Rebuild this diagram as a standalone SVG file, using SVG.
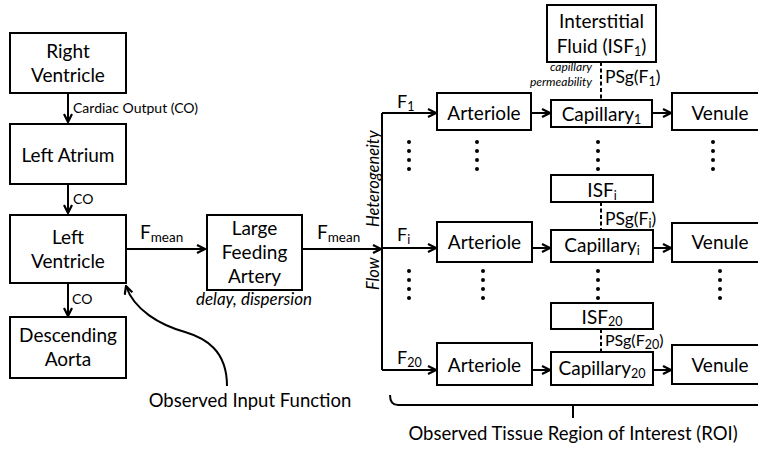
<svg xmlns="http://www.w3.org/2000/svg" width="758" height="449" viewBox="0 0 758 449">
<defs>
<style>
rect.box{fill:#fff;stroke:#000;stroke-width:2}
text{font-family:Lato,"Liberation Sans",sans-serif;fill:#000}
.n{font-size:19px;text-anchor:middle}
.s{font-size:14px}
.p{font-size:17.5px}
.i{font-style:italic}
.ln{fill:none;stroke:#000;stroke-width:2}
.dash{fill:none;stroke:#000;stroke-width:2;stroke-dasharray:4,2.5}
.sub{font-size:12.5px}
</style>
<marker id="ah" viewBox="0 0 10 10" refX="9" refY="5" markerWidth="10" markerHeight="10" markerUnits="userSpaceOnUse" orient="auto">
<path d="M1,1 L9,5 L1,9" fill="none" stroke="#000" stroke-width="2.2"/>
</marker>
</defs>
<rect width="758" height="449" fill="#fff"/>

<g id="connectors">
<path class="ln" d="M68,93 V122" marker-end="url(#ah)"/>
<path class="ln" d="M68,184 V213" marker-end="url(#ah)"/>
<path class="ln" d="M68,283 V316" marker-end="url(#ah)"/>
<path class="ln" d="M126,249 H205" marker-end="url(#ah)"/>
<path class="ln" d="M302,249 H381" marker-end="url(#ah)"/>
<path class="ln" d="M382,113 V370"/>
<path class="ln" d="M382,113 H436" marker-end="url(#ah)"/>
<path class="ln" d="M382,248 H436" marker-end="url(#ah)"/>
<path class="ln" d="M382,370 H436" marker-end="url(#ah)"/>
<path class="ln" d="M531,113 H550" marker-end="url(#ah)"/>
<path class="ln" d="M652,113 H671" marker-end="url(#ah)"/>
<path class="ln" d="M532,248 H550" marker-end="url(#ah)"/>
<path class="ln" d="M653,248 H671" marker-end="url(#ah)"/>
<path class="ln" d="M532,370 H550" marker-end="url(#ah)"/>
<path class="ln" d="M653,370 H671" marker-end="url(#ah)"/>
<path class="dash" d="M601,62 V100"/>
<path class="dash" d="M601,202 V230"/>
<path class="dash" d="M601,329 V352"/>
<path class="ln" d="M227,386 C227,350 205,338 185,332 C160,325 134,310 126,286" marker-end="url(#ah)" stroke-width="2.4"/>
<path class="ln" d="M390,395 Q390,405 398,405 H758 M573,405 V418" stroke-width="2.4"/>
</g>

<g id="dots" fill="#000">
<circle cx="409" cy="142" r="2"/><circle cx="409" cy="151" r="2"/><circle cx="409" cy="160" r="2"/><circle cx="409" cy="169" r="2"/>
<circle cx="477" cy="142" r="2"/><circle cx="477" cy="151" r="2"/><circle cx="477" cy="160" r="2"/><circle cx="477" cy="169" r="2"/>
<circle cx="598" cy="142" r="2"/><circle cx="598" cy="151" r="2"/><circle cx="598" cy="160" r="2"/><circle cx="598" cy="169" r="2"/>
<circle cx="713" cy="142" r="2"/><circle cx="713" cy="151" r="2"/><circle cx="713" cy="160" r="2"/><circle cx="713" cy="169" r="2"/>
<circle cx="409" cy="271" r="2"/><circle cx="409" cy="280" r="2"/><circle cx="409" cy="289" r="2"/><circle cx="409" cy="298" r="2"/>
<circle cx="483" cy="271" r="2"/><circle cx="483" cy="280" r="2"/><circle cx="483" cy="289" r="2"/><circle cx="483" cy="298" r="2"/>
<circle cx="598" cy="271" r="2"/><circle cx="598" cy="280" r="2"/><circle cx="598" cy="289" r="2"/><circle cx="598" cy="298" r="2"/>
<circle cx="720" cy="271" r="2"/><circle cx="720" cy="280" r="2"/><circle cx="720" cy="289" r="2"/><circle cx="720" cy="298" r="2"/>
</g>

<g id="right-ventricle"><rect class="box" x="10" y="33" width="116" height="60"/><text class="n" x="68" y="58">Right</text><text class="n" x="68" y="82">Ventricle</text></g>
<g id="left-atrium"><rect class="box" x="10" y="124" width="116" height="60"/><text class="n" x="68" y="162">Left Atrium</text></g>
<g id="left-ventricle"><rect class="box" x="10" y="215" width="116" height="68"/><text class="n" x="68" y="244">Left</text><text class="n" x="68" y="268">Ventricle</text></g>
<g id="descending-aorta"><rect class="box" x="10" y="317" width="116" height="61"/><text class="n" x="68" y="342">Descending</text><text class="n" x="68" y="366">Aorta</text></g>
<g id="large-feeding-artery"><rect class="box" x="207" y="215" width="95" height="75"/><text class="n" x="254.5" y="235">Large</text><text class="n" x="254.5" y="259">Feeding</text><text class="n" x="254.5" y="283">Artery</text></g>

<g id="isf-1"><rect class="box" x="547" y="5" width="109" height="57"/><text class="n" x="601.5" y="28">Interstitial</text><text class="n" x="601.5" y="53">Fluid (ISF<tspan class="sub" dy="3">1</tspan><tspan dy="-3">)</tspan></text></g>
<g id="arteriole-1"><rect class="box" x="437" y="93" width="94" height="37"/><text class="n" x="484" y="120">Arteriole</text></g>
<g id="capillary-1"><rect class="box" x="551" y="100" width="101" height="27"/><text class="n" x="601.5" y="121">Capillary<tspan class="sub" dy="3">1</tspan></text></g>
<g id="venule-1"><rect class="box" x="672" y="93" width="96" height="37"/><text class="n" x="720" y="120">Venule</text></g>

<g id="isf-i"><rect class="box" x="551" y="175" width="102" height="27"/><text class="n" x="602" y="197">ISF<tspan class="sub" dy="3">i</tspan></text></g>
<g id="arteriole-i"><rect class="box" x="437" y="222" width="95" height="40"/><text class="n" x="484.5" y="249">Arteriole</text></g>
<g id="capillary-i"><rect class="box" x="551" y="230" width="102" height="32"/><text class="n" x="602" y="252">Capillary<tspan class="sub" dy="3">i</tspan></text></g>
<g id="venule-i"><rect class="box" x="672" y="223" width="96" height="39"/><text class="n" x="720" y="249">Venule</text></g>

<g id="isf-20"><rect class="box" x="551" y="303" width="102" height="26"/><text class="n" x="602" y="324">ISF<tspan class="sub" dy="2">20</tspan></text></g>
<g id="arteriole-20"><rect class="box" x="437" y="343" width="95" height="42"/><text class="n" x="484.5" y="372">Arteriole</text></g>
<g id="capillary-20"><rect class="box" x="551" y="352" width="102" height="33"/><text class="n" x="602" y="375">Capillary<tspan class="sub" dy="3">20</tspan></text></g>
<g id="venule-20"><rect class="box" x="672" y="345" width="96" height="39"/><text class="n" x="720" y="372">Venule</text></g>

<g id="labels">
<text class="s" x="73" y="113">Cardiac Output (CO)</text>
<text class="s" x="73" y="204">CO</text>
<text class="s" x="72" y="304">CO</text>
<text x="140" y="239" font-size="19">F<tspan font-size="13.5" dy="3">mean</tspan></text>
<text x="317" y="239" font-size="19">F<tspan font-size="13.5" dy="3">mean</tspan></text>
<text class="i" x="254" y="305" font-size="17" text-anchor="middle">delay, dispersion</text>
<text class="i" transform="translate(379,290) rotate(-90)" font-size="16.5">Flow<tspan x="63">Heterogeneity</tspan></text>
<text x="397" y="108" font-size="18">F<tspan class="sub" dy="3">1</tspan></text>
<text x="397" y="241" font-size="18">F<tspan class="sub" dy="3">i</tspan></text>
<text x="397" y="364" font-size="18">F<tspan class="sub" dy="3">20</tspan></text>
<text class="i" x="592" y="71" font-size="12" text-anchor="end">capillary</text>
<text class="i" x="592" y="86" font-size="12" text-anchor="end">permeability</text>
<text class="p" x="605" y="83">PSg(F<tspan class="sub" dy="3">1</tspan><tspan dy="-3">)</tspan></text>
<text class="p" x="605" y="225">PSg(F<tspan class="sub" dy="3">i</tspan><tspan dy="-3">)</tspan></text>
<text x="605" y="346" font-size="16">PSg(F<tspan class="sub" dy="3">20</tspan><tspan dy="-3">)</tspan></text>
<text x="250" y="407" font-size="18.5" text-anchor="middle">Observed Input Function</text>
<text x="573" y="440" font-size="18.5" text-anchor="middle">Observed Tissue Region of Interest (ROI)</text>
</g>
</svg>
